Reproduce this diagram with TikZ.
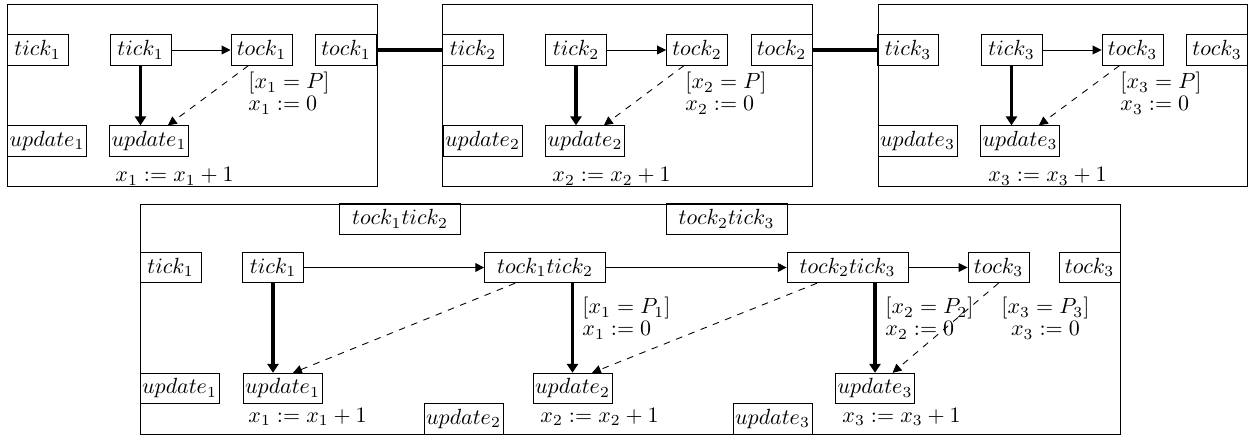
\documentclass[tikz,border=0pt]{standalone}
\usepackage{amsmath}
\usetikzlibrary{arrows.meta,positioning}
\begin{document}
\begin{tikzpicture}[x=0.455pt,y=-0.455pt,
  loc/.style={draw,inner sep=1pt,minimum height=13.9pt,minimum width=27.8pt},
  upd/.style={loc,minimum width=35.7pt},
  sync/.style={loc,minimum width=55pt},
  lab/.style={inner sep=0pt,align=left},
  go/.style={-{Triangle[length=4pt,width=4pt]}},
  fire/.style={ultra thick,-{Triangle[length=4pt,width=5pt]}},
  back/.style={dashed,-{Triangle[length=4pt,width=4pt]}},
  link/.style={line width=2pt}]
\useasboundingbox (0,0) rectangle (1249,437);
\draw (7,4) rectangle (377,186);
\draw (442,4) rectangle (812,186);
\draw (878,4) rectangle (1247,186);
\draw (140,204) rectangle (1120,434);
\node[loc] (l1) at (37.5,50) {$tick_1$};
\node[loc] (t1) at (140.5,50) {$tick_1$};
\node[loc] (k1) at (261.5,50) {$tock_1$};
\node[loc] (r1) at (346,50) {$tock_1$};
\node[upd] (lu1) at (47,141) {$update_1$};
\node[upd] (u1) at (149,141) {$update_1$};
\node[lab,anchor=north west] (g1) at (248,72) {$[x_1 = P]$\\[-2pt]$x_1 := 0$};
\node[lab,anchor=base west] (a1) at (115,182) {$x_1 := x_1 + 1$};
\node[loc] (l2) at (473,50) {$tick_2$};
\node[loc] (t2) at (576,50) {$tick_2$};
\node[loc] (k2) at (697,50) {$tock_2$};
\node[loc] (r2) at (781.5,50) {$tock_2$};
\node[upd] (lu2) at (482.5,141) {$update_2$};
\node[upd] (u2) at (585,141) {$update_2$};
\node[lab,anchor=north west] (g2) at (685,72) {$[x_2 = P]$\\[-2pt]$x_2 := 0$};
\node[lab,anchor=base west] (a2) at (552,182) {$x_2 := x_2 + 1$};
\node[loc] (l3) at (908,50) {$tick_3$};
\node[loc] (t3) at (1011.5,50) {$tick_3$};
\node[loc] (k3) at (1132.5,50) {$tock_3$};
\node[loc] (r3) at (1217,50) {$tock_3$};
\node[upd] (lu3) at (917.5,141) {$update_3$};
\node[upd] (u3) at (1020,141) {$update_3$};
\node[lab,anchor=north west] (g3) at (1120,72) {$[x_3 = P]$\\[-2pt]$x_3 := 0$};
\node[lab,anchor=base west] (a3) at (988,182) {$x_3 := x_3 + 1$};
\draw[go] (t1) -- (k1);
\draw[fire] (t1.south) -- (t1.south |- u1.north);
\draw[back] ([xshift=-6pt]k1.south) -- ([xshift=8.6pt]u1.north);
\draw[go] (t2) -- (k2);
\draw[fire] (t2.south) -- (t2.south |- u2.north);
\draw[back] ([xshift=-6pt]k2.south) -- ([xshift=8.6pt]u2.north);
\draw[go] (t3) -- (k3);
\draw[fire] (t3.south) -- (t3.south |- u3.north);
\draw[back] ([xshift=-6pt]k3.south) -- ([xshift=8.6pt]u3.north);
\draw[link] (r1) -- (l2);
\draw[link] (r2) -- (l3);
\node[sync] (c12) at (400,219) {$tock_1 tick_2$};
\node[sync] (c23) at (726.5,219) {$tock_2 tick_3$};
\node[loc] (bl1) at (170.5,267.5) {$tick_1$};
\node[loc] (bt1) at (273,267.5) {$tick_1$};
\node[sync] (m12) at (545,267.5) {$tock_1 tick_2$};
\node[sync] (m23) at (847.5,267.5) {$tock_2 tick_3$};
\node[loc] (bk3) at (998.5,267.5) {$tock_3$};
\node[loc] (br3) at (1089.5,267.5) {$tock_3$};
\node[upd] (blu1) at (179.5,388.5) {$update_1$};
\node[upd] (bu1) at (282.5,388.5) {$update_1$};
\node[upd] (bu2) at (572.5,388.5) {$update_2$};
\node[upd] (bu3) at (875,388.5) {$update_3$};
\node[upd] (bb2) at (463.5,419) {$update_2$};
\node[upd] (bb3) at (772.5,419) {$update_3$};
\node[lab,anchor=north west] (h1) at (582,297) {$[x_1 = P_1]$\\[-2pt]$x_1 := 0$};
\node[lab,anchor=north west] (h2) at (885,297) {$[x_2 = P_2]$\\[-2pt]$x_2 := 0$};
\node[lab,align=center,anchor=north west] (h3) at (1001,297) {$[x_3 = P_3]$\\[-2pt]$x_3 := 0$};
\node[lab,anchor=base west] (b1) at (248,422) {$x_1 := x_1 + 1$};
\node[lab,anchor=base west] (b2) at (540,422) {$x_2 := x_2 + 1$};
\node[lab,anchor=base west] (b3) at (842,422) {$x_3 := x_3 + 1$};
\draw[go] (bt1) -- (m12);
\draw[go] (m12) -- (m23);
\draw[go] (m23) -- (bk3);
\draw[fire] (bt1.south) -- (bt1.south |- bu1.north);
\draw[fire] (bu2.north |- m12.south) -- (bu2.north);
\draw[fire] (bu3.north |- m23.south) -- (bu3.north);
\draw[back] ([xshift=-13.6pt]m12.south) -- ([xshift=4.8pt]bu1.north);
\draw[back] ([xshift=-13.9pt]m23.south) -- ([xshift=8.9pt]bu2.north);
\draw[back] (bk3.south) -- ([xshift=8pt]bu3.north);
\end{tikzpicture}
\end{document}
